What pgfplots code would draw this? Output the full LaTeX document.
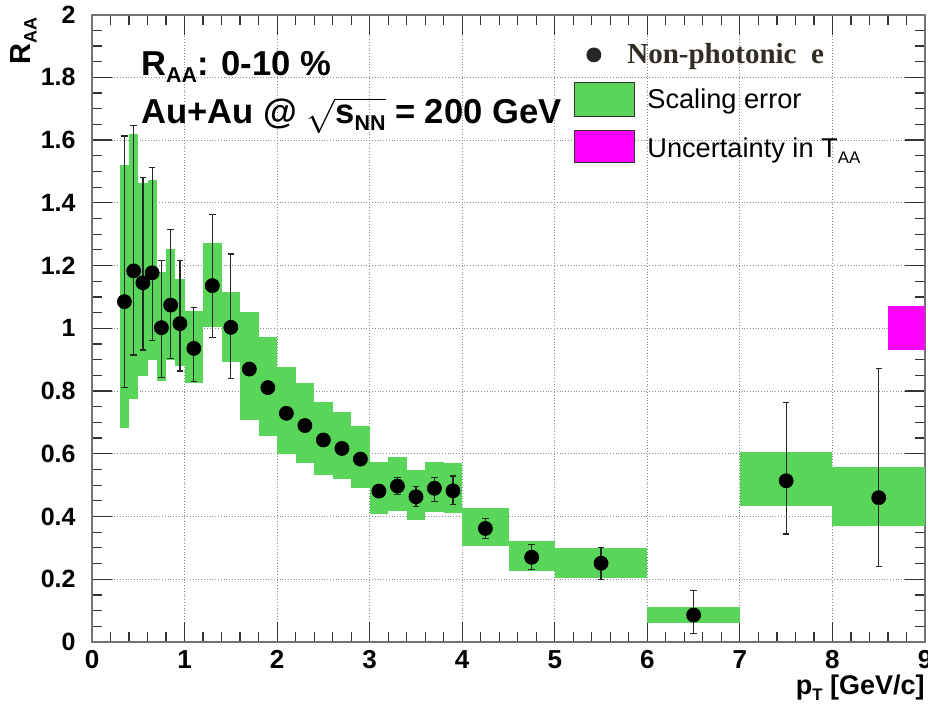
\documentclass[border=0pt]{standalone}
\usepackage{fontspec}
\setmainfont{Liberation Sans}
\newfontfamily\npfont{Liberation Serif}
\usepackage{pgfplots}
\usepackage{pgfplotstable}
\pgfplotsset{compat=1.18}

\definecolor{rgreen}{RGB}{89,214,89}
\definecolor{rmag}{RGB}{255,0,255}
\definecolor{nptext}{RGB}{50,45,35}

\newcommand\sub[1]{\raisebox{-0.42ex}{\scalebox{0.62}{#1}}}
\newcommand\errbox[5]{\addplot[draw=none, fill=#5, forget plot] coordinates {(#1,#3) (#2,#3) (#2,#4) (#1,#4)} -- cycle;}

\pgfplotstableread{
x     y      ep     em
0.35  1.085  0.528  0.273
0.45  1.183  0.464  0.268
0.55  1.145  0.335  0.214
0.65  1.177  0.335  0.217
0.75  1.002  0.213  0.158
0.85  1.074  0.240  0.170
0.95  1.015  0.200  0.151
1.1   0.936  0.130  0.106
1.3   1.136  0.226  0.165
1.5   1.003  0.234  0.162
1.7   0.870  0.0    0.0
1.9   0.811  0.0    0.0
2.1   0.729  0.0    0.0
2.3   0.690  0.0    0.0
2.5   0.644  0.0    0.0
2.7   0.617  0.0    0.0
2.9   0.583  0.0    0.0
3.1   0.481  0.020  0.020
3.3   0.497  0.027  0.028
3.5   0.463  0.032  0.032
3.7   0.490  0.035  0.041
3.9   0.482  0.047  0.043
4.25  0.362  0.031  0.033
4.75  0.270  0.040  0.038
5.5   0.251  0.050  0.053
6.5   0.086  0.078  0.060
7.5   0.514  0.249  0.170
8.5   0.460  0.412  0.220
}\npe

\begin{document}
\begin{tikzpicture}
\begin{axis}[
  name=ax,
  width=416.5pt, height=313.7pt, scale only axis,
  xmin=0, xmax=9, ymin=0, ymax=2,
  xtick={0,1,2,3,4,5,6,7,8,9},
  ytick={0,0.2,0.4,0.6,0.8,1,1.2,1.4,1.6,1.8,2},
  minor x tick num=4, minor y tick num=3,
  tick align=inside,
  xtick pos=both, ytick pos=both,
  major tick length=10pt, minor tick length=5pt,
  grid=major,
  major grid style={densely dotted, black!45, line width=0.5pt},
  axis line style={black!55, line width=1pt},
  every tick/.style={black!80, line width=0.6pt},
  /pgf/number format/assume math mode=true,
  xticklabel style={font=\fontsize{13}{13}\selectfont\bfseries, inner sep=0pt, yshift=-4pt},
  yticklabel style={font=\fontsize{12.5}{12.5}\selectfont\bfseries, inner sep=0pt, xshift=-8pt},
  xlabel={p\sub{T} [GeV/c]},
  xlabel style={font=\fontsize{13.5}{13.5}\selectfont\bfseries, at={(rel axis cs:1,0)}, anchor=north east, inner sep=0pt, yshift=-16.5pt},
  ylabel={R\sub{AA}},
  ylabel style={font=\fontsize{14.5}{14.5}\selectfont\bfseries, at={(rel axis cs:0,1)}, anchor=south east, inner sep=0pt, xshift=-1.5pt, yshift=27.5pt},
  legend style={draw=none, fill=none, at={(rel axis cs:0.5786,0.9612)}, anchor=north west,
    font=\fontsize{13.6}{13.6}\selectfont, row sep=6pt, inner sep=0pt,
    /tikz/every even column/.append style={column sep=7pt}},
  legend cell align=left,
]
% scaling error boxes
\errbox{0.3}{0.4}{0.681}{1.520}{rgreen}
\errbox{0.4}{0.5}{0.774}{1.618}{rgreen}
\errbox{0.5}{0.6}{0.848}{1.464}{rgreen}
\errbox{0.6}{0.7}{0.899}{1.473}{rgreen}
\errbox{0.7}{0.8}{0.832}{1.180}{rgreen}
\errbox{0.8}{0.9}{0.900}{1.252}{rgreen}
\errbox{0.9}{1.0}{0.880}{1.156}{rgreen}
\errbox{1.0}{1.2}{0.825}{1.056}{rgreen}
\errbox{1.2}{1.4}{1.005}{1.271}{rgreen}
\errbox{1.4}{1.6}{0.894}{1.117}{rgreen}
\errbox{1.6}{1.8}{0.708}{1.053}{rgreen}
\errbox{1.8}{2.0}{0.658}{0.973}{rgreen}
\errbox{2.0}{2.2}{0.598}{0.876}{rgreen}
\errbox{2.2}{2.4}{0.570}{0.825}{rgreen}
\errbox{2.4}{2.6}{0.532}{0.766}{rgreen}
\errbox{2.6}{2.8}{0.519}{0.732}{rgreen}
\errbox{2.8}{3.0}{0.490}{0.690}{rgreen}
\errbox{3.0}{3.2}{0.407}{0.575}{rgreen}
\errbox{3.2}{3.4}{0.418}{0.589}{rgreen}
\errbox{3.4}{3.6}{0.389}{0.548}{rgreen}
\errbox{3.6}{3.8}{0.413}{0.575}{rgreen}
\errbox{3.8}{4.0}{0.410}{0.570}{rgreen}
\errbox{4.0}{4.5}{0.306}{0.428}{rgreen}
\errbox{4.5}{5.0}{0.226}{0.322}{rgreen}
\errbox{5.0}{6.0}{0.205}{0.299}{rgreen}
\errbox{6.0}{7.0}{0.062}{0.113}{rgreen}
\errbox{7.0}{8.0}{0.435}{0.605}{rgreen}
\errbox{8.0}{9.0}{0.371}{0.557}{rgreen}
% T_AA uncertainty
\errbox{8.6}{9.0}{0.930}{1.072}{rmag}
% data
\addplot[only marks, mark=*, mark size=3.5pt, black, forget plot,
  error bars/.cd, y dir=both, y explicit,
  error bar style={black!85, line width=0.6pt},
  error mark options={rotate=90, mark size=1.6pt, black!85, line width=0.6pt}]
  table[x=x, y=y, y error plus=ep, y error minus=em]{\npe};

\addlegendimage{legend image code/.code={\fill[black!85] (9.5pt,0pt) circle (3.5pt);}}
\addlegendentry{\hspace*{-6pt}\npfont\bfseries\fontsize{14.5}{14.5}\selectfont\color{nptext}Non-photonic\ \ e}
\addlegendimage{legend image code/.code={\draw[fill=rgreen, draw=black!80, line width=0.5pt] (0pt,-8.5pt) rectangle (30pt,8.5pt);}}
\addlegendentry{\hspace*{4pt}Scaling error}
\addlegendimage{legend image code/.code={\draw[fill=rmag, draw=black!80, line width=0.5pt] (0pt,-8pt) rectangle (30pt,8pt);}}
\addlegendentry{\rule{0pt}{12pt}\hspace*{4pt}Uncertainty in T\sub{AA}}

\node[anchor=base west, inner sep=0pt, font=\fontsize{17.3}{17.3}\selectfont\bfseries] at (rel axis cs:0.0585,0.9037) {R\sub{AA}: 0-10 \%};
\node[anchor=base west, inner sep=0pt, font=\fontsize{17.3}{17.3}\selectfont\bfseries] at (rel axis cs:0.0585,0.8272) {Au+Au @ $\sqrt{\mbox{\bfseries s\sub{NN}}}$ = 200 GeV};
\end{axis}
\pgfresetboundingbox
\path[use as bounding box] ([shift={(-46pt,-34pt)}]ax.south west) rectangle ([shift={(1.5pt,7.3pt)}]ax.north east);
\end{tikzpicture}
\end{document}
